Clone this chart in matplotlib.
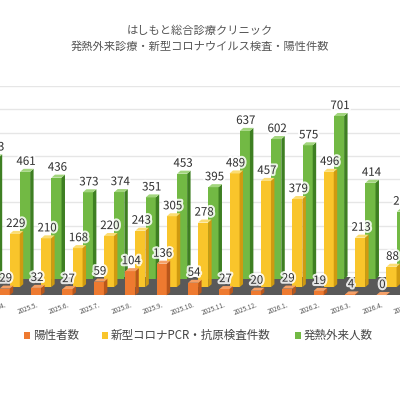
import matplotlib
matplotlib.use("Agg")
import matplotlib.pyplot as plt
import matplotlib.patheffects as pe
from matplotlib.patches import Polygon, Rectangle

plt.rcParams['font.family'] = ['Noto Sans CJK JP', 'DejaVu Sans']

title = "はしもと総合診療クリニック\n発熱外来診療・新型コロナウイルス検査・陽性件数"
months = ["2025.3.", "2025.4.", "2025.5.", "2025.6.", "2025.7.", "2025.8.", "2025.9.",
          "2025.10.", "2025.11.", "2025.12.", "2026.1.", "2026.2.", "2026.3.", "2026.4.", "2026.5."]
positive = [30, 29, 32, 27, 59, 104, 136, 54, 27, 20, 29, 19, 4, 0, 0]
tests = [250, 229, 210, 168, 220, 243, 305, 278, 489, 457, 379, 496, 213, 88, 60]
fever = [523, 461, 436, 373, 374, 351, 453, 395, 637, 602, 575, 701, 414, 290, 200]
series_names = ["陽性者数", "新型コロナPCR・抗原検査件数", "発熱外来人数"]

fig = plt.figure(figsize=(4, 4), dpi=100)
ax = fig.add_axes([0, 0.25, 1, 0.535])
ax.set_xlim(-0.15, 12.59)
ax.set_ylim(-120, 800)
for s in ax.spines.values():
    s.set_visible(False)
ax.set_xticks([])
ax.set_yticks(range(0, 801, 100))
ax.tick_params(left=False, labelleft=False)
ax.yaxis.grid(True, color='#e6e6e6', lw=1.0)
ax.set_axisbelow(True)

# floor
ax.add_patch(Polygon([(-1, -100), (20, -100), (20, -22), (-1, -22)], closed=True,
                     facecolor='#595959', edgecolor='none', zorder=1))

w = 0.32
dx = 0.11
dy = 13
specs = [
    (positive, -1.0, -100, '#EE7A30', '#B9561B', '#F4A068'),
    (tests, -0.68, -65, '#F9C52B', '#CF9A10', '#FBDD73'),
    (fever, -0.35, -30, '#72B944', '#3E7F22', '#A2D57D'),
]
glow = [pe.withStroke(linewidth=3, foreground='white', alpha=0.85)]
for k, (vals, off, base, front, side, top) in enumerate(specs):
    z = 3 + (2 - k) * 3
    for i, v in enumerate(vals):
        x = i + off
        h = max(v, 1.5)
        ax.bar(x, h, width=w, bottom=base, color=front, edgecolor='none', zorder=z)
        xr = x + w / 2
        xl = x - w / 2
        ax.add_patch(Polygon([(xr, base), (xr + dx, base + dy), (xr + dx, base + h + dy), (xr, base + h)],
                             closed=True, facecolor=side, edgecolor='none', zorder=z))
        ax.add_patch(Polygon([(xl, base + h), (xr, base + h), (xr + dx, base + h + dy), (xl + dx, base + h + dy)],
                             closed=True, facecolor=top, edgecolor='none', zorder=z))
        ax.text(x + 0.03, base + h + dy + 4, str(v), ha='center', va='bottom', fontsize=8.3,
                color='#333333', zorder=20, path_effects=glow, clip_on=True)

for i, m in enumerate(months):
    ax.text(i - 1.0, -125, m, rotation=20, ha='right', va='top', fontsize=4.6,
            color='#555555', clip_on=False, rotation_mode='anchor')

fig.text(0.5, 0.904, title, ha='center', va='center', fontsize=8.1, color='#555555',
         linespacing=1.7)

colors = ['#EE7A30', '#F9C52B', '#72B944']
xs = [0.06, 0.255, 0.737]
for x0, c, name in zip(xs, colors, series_names):
    fig.add_artist(Rectangle((x0, 0.153), 0.016, 0.016, transform=fig.transFigure,
                             facecolor=c, edgecolor='none'))
    fig.text(x0 + 0.022, 0.161, name, ha='left', va='center', fontsize=8.3, color='#444444')

fig.savefig("out.png", dpi=100, facecolor='white')
